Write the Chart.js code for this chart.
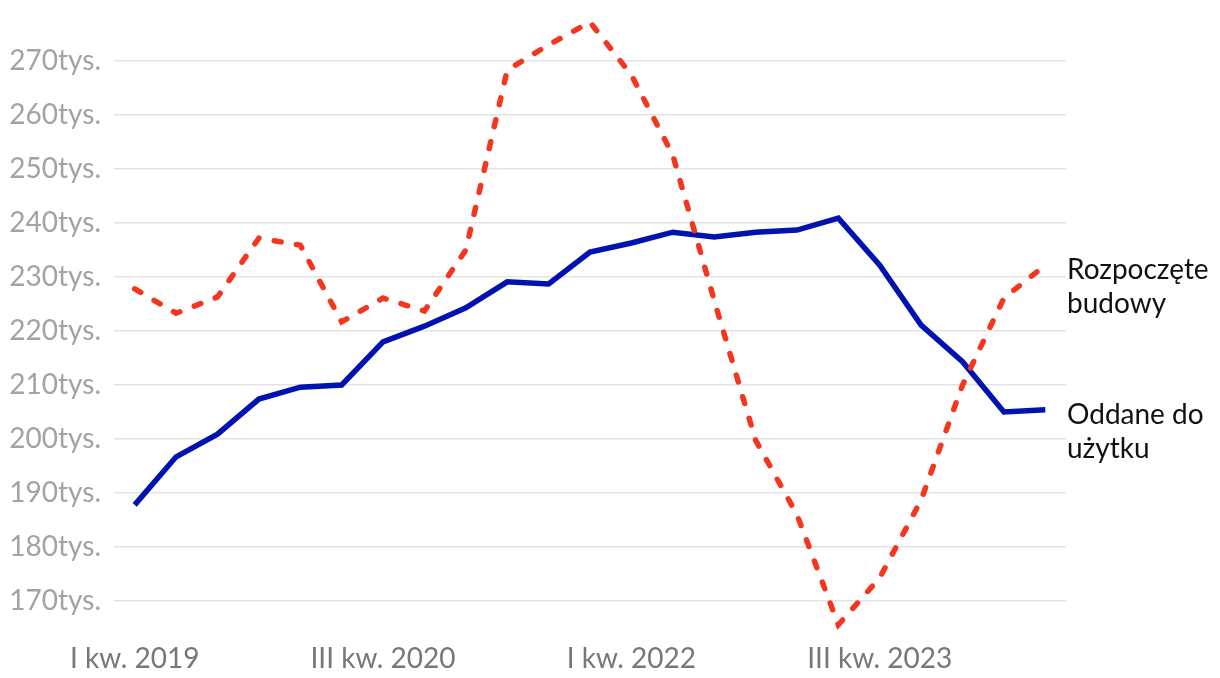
<!DOCTYPE html>
<html>
<head>
<meta charset="utf-8">
<script src="https://cdn.jsdelivr.net/npm/chart.js@4"></script>
<style>
  html, body { margin: 0; padding: 0; background: #fff; }
  #wrap { width: 1220px; height: 678px; }
</style>
</head>
<body>
<div id="wrap"><canvas id="myChart"></canvas></div>
<script>
// kwartały I 2019 - III 2024
const quarters = [
  'I kw. 2019', 'II kw. 2019', 'III kw. 2019', 'IV kw. 2019',
  'I kw. 2020', 'II kw. 2020', 'III kw. 2020', 'IV kw. 2020',
  'I kw. 2021', 'II kw. 2021', 'III kw. 2021', 'IV kw. 2021',
  'I kw. 2022', 'II kw. 2022', 'III kw. 2022', 'IV kw. 2022',
  'I kw. 2023', 'II kw. 2023', 'III kw. 2023', 'IV kw. 2023',
  'I kw. 2024', 'II kw. 2024', 'III kw. 2024',
];

// tys. mieszkań (suma 4 kwartałów)
const oddane = [
  187.8, 196.7, 200.9, 207.4, 209.6, 210.0, 218.0, 220.9, 224.3, 229.1, 228.7, 234.6,
  236.3, 238.3, 237.4, 238.3, 238.7, 240.9, 232.2, 221.1, 214.3, 205.0, 205.4,
];
const rozpoczete = [
  227.8, 223.3, 226.3, 237.2, 235.9, 221.7, 226.1, 223.7, 235.0, 268.3, 273.0, 277.2,
  267.4, 252.6, 225.7, 199.8, 186.0, 165.6, 174.3, 188.7, 210.0, 226.1, 232.2,
];

const yTicks = [170, 180, 190, 200, 210, 220, 230, 240, 250, 260, 270];
const shownQuarters = ['I kw. 2019', 'III kw. 2020', 'I kw. 2022', 'III kw. 2023'];

const seriesNames = [['Rozpoczęte', 'budowy'], ['Oddane do', 'użytku']];

// etykiety serii po prawej stronie
const endLabels = {
  id: 'endLabels',
  afterDatasetsDraw(chart) {
    const ctx = chart.ctx;
    ctx.save();
    ctx.font = '28px Lato';
    ctx.fillStyle = '#111';
    ctx.textAlign = 'left';
    ctx.textBaseline = 'middle';
    chart.data.datasets.forEach((ds, i) => {
      const meta = chart.getDatasetMeta(i);
      const pt = meta.data[meta.data.length - 1];
      seriesNames[i].forEach((t, j) => {
        ctx.fillText(t, chart.chartArea.right + 1, pt.y + 5 + j * 34);
      });
    });
    ctx.restore();
  },
};

const data = {
  labels: quarters,
  datasets: [
    {
      label: 'Rozpoczęte budowy',
      data: rozpoczete,
      borderColor: '#f4361f',
      borderWidth: 5.5,
      borderDash: [7, 15.5],
      borderCapStyle: 'round',
      pointRadius: 0,
      tension: 0,
      clip: false,
    },
    {
      label: 'Oddane do użytku',
      data: oddane,
      borderColor: '#0012b0',
      borderWidth: 5.5,
      pointRadius: 0,
      tension: 0,
    },
  ],
};

const config = {
  type: 'line',
  data: data,
  options: {
    responsive: true,
    maintainAspectRatio: false,
    animation: false,
    layout: {
      padding: { left: 0, right: 154, top: 0, bottom: 0 },
    },
    scales: {
      x: {
        offset: true,
        grid: { display: false },
        border: { display: false },
        afterFit: (scale) => {
          scale.height = 50;
          scale.paddingLeft = 0;
          scale.paddingRight = 0;
        },
        ticks: {
          autoSkip: false,
          maxRotation: 0,
          padding: 6,
          color: '#777',
          font: { family: 'Lato', size: 28 },
          callback: function (v) {
            const l = this.getLabelForValue(v);
            return shownQuarters.includes(l) ? l : '';
          },
        },
      },
      y: {
        min: 165,
        max: 281.3,
        afterBuildTicks: (scale) => {
          scale.ticks = yTicks.map((v) => ({ value: v }));
        },
        afterFit: (scale) => {
          scale.width = 114;
          scale.paddingTop = 0;
          scale.paddingBottom = 0;
        },
        grid: { color: '#e3e3e3', lineWidth: 1.5, drawTicks: false },
        border: { display: false },
        ticks: {
          padding: 13,
          color: '#a3a3a3',
          font: { family: 'Lato', size: 28 },
          callback: (v) => v + 'tys.',
        },
      },
    },
    plugins: {
      legend: { display: false },
      tooltip: { enabled: false },
    },
  },
  plugins: [endLabels],
};

const myChart = new Chart(document.getElementById('myChart'), config);
</script>
</body>
</html>
